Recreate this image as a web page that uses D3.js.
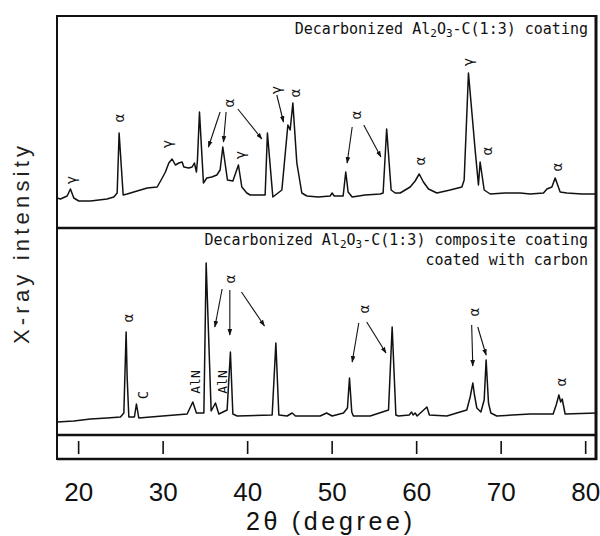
<!DOCTYPE html>
<html>
<head>
<meta charset="utf-8">
<script src="https://cdn.jsdelivr.net/npm/d3@7/dist/d3.min.js"></script>
<style>
  html, body { margin: 0; padding: 0; background: #fff; }
  svg { display: block; }
</style>
</head>
<body>
<div id="chart"></div>
<script>
// ---------------- DATA ----------------
// 2-theta tick labels
const tickValues = [20, 30, 40, 50, 60, 70, 80];

// Upper pattern: Decarbonized Al2O3-C(1:3) coating  (2θ in degree, intensity in a.u.)
const topTheta = [17.51, 17.91, 18.70, 19.09, 19.49, 20.08, 21.46, 23.43, 24.22, 24.62, 24.85, 25.33, 25.80, 26.98,
  28.17, 29.35, 29.82, 30.33, 30.73, 31.12, 31.51, 31.92, 32.31, 32.51, 33.10, 33.49, 33.76, 34.00, 34.12, 34.36,
  34.83, 35.23, 35.82, 36.41, 36.80, 37.12, 37.67, 38.31, 38.97, 39.37, 39.96, 40.36, 42.13, 42.40, 43.04, 44.11,
  44.82, 45.09, 45.41, 45.88, 46.47, 47.07, 48.40, 49.82, 50.06, 50.30, 51.36, 51.67, 51.95, 52.43, 53.96, 55.74,
  56.09, 56.51, 57.04, 57.51, 58.11, 59.29, 59.88, 60.36, 60.86, 61.46, 62.45, 64.02, 65.41, 65.68, 66.19, 66.98,
  67.37, 67.57, 68.05, 68.76, 70.50, 72.31, 73.50, 75.07, 75.47, 76.06, 76.45, 77.04, 77.83, 79.60, 81.38];
const topIntensity = [4, 3, 6, 13, 4, 1, 1, 3, 5, 9, 69, 7, 8, 11,
  14, 15, 22, 30, 39, 43, 37, 39, 40, 35, 34, 35, 39, 30, 42, 90,
  19, 24, 25, 27, 32, 55, 22, 21, 37, 15, 9, 7, 7, 69, 5, 12,
  77, 72, 99, 39, 9, 6, 5, 6, 9, 6, 6, 30, 10, 5, 7, 8,
  9, 73, 12, 9, 9, 15, 21, 28, 20, 13, 9, 12, 15, 22, 129, 52,
  17, 40, 12, 8, 9, 9, 8, 9, 13, 15, 24, 10, 9, 8, 8];

// Lower pattern: Decarbonized Al2O3-C(1:3) composite coating coated with carbon
const bottomTheta = [17.51, 19.49, 21.46, 23.43, 25.01, 25.41, 25.68, 25.80, 26.00, 26.66, 26.90, 27.18, 28.56,
  32.90, 33.57, 34.00, 34.88, 35.15, 35.74, 36.25, 36.65, 37.63, 38.02, 38.31, 38.82, 42.96, 43.40, 43.75, 44.73,
  45.33, 45.72, 48.64, 49.40, 50.06, 51.40, 51.87, 52.11, 52.38, 52.57, 54.56, 56.73, 57.16, 57.60, 57.91, 59.17,
  59.46, 59.64, 59.88, 60.12, 61.27, 61.57, 63.63, 65.99, 66.39, 66.71, 66.90, 67.18, 67.66, 68.05, 68.28, 68.56,
  68.84, 69.54, 73.49, 76.21, 76.57, 76.89, 77.10, 77.28, 77.63, 81.42];
const bottomIntensity = [3, 4, 6, 7, 8, 12, 93, 48, 8, 8, 21, 7, 8,
  11, 23, 12, 12, 162, 14, 22, 11, 15, 73, 11, 9, 10, 82, 10, 9,
  12, 9, 9, 12, 9, 12, 17, 47, 13, 9, 9, 15, 98, 10, 9, 10,
  13, 10, 12, 9, 18, 10, 9, 15, 28, 42, 30, 17, 13, 25, 65, 22,
  12, 9, 11, 11, 20, 30, 23, 26, 11, 12];

// Phase labels: text, 2θ, intensity position
const topLabelText  = ["γ", "α", "γ", "α", "γ", "γ", "α", "α", "α", "γ", "α", "α"];
const topLabelTheta = [19.15, 24.80, 30.53, 37.81, 39.17, 43.37, 45.64, 52.90, 60.45, 66.15, 68.38, 76.66];
const topLabelInt   = [22, 84, 58, 99, 47, 112, 109, 87, 41, 140, 51, 35];

const bottomLabelText  = ["α", "C", "AlN", "AlN", "α", "α", "α", "α"];
const bottomLabelTheta = [25.88, 27.69, 33.88, 37.04, 37.95, 53.80, 66.79, 77.12];
const bottomLabelInt   = [107, 30, 43, 43, 146, 116, 113, 43];

// Arrows: from (θ, I) to (θ, I)
const topArrowFromTheta = [36.80, 37.51, 38.90, 43.51, 52.43, 53.80];
const topArrowFromInt   = [90, 90, 93, 107, 75, 77];
const topArrowToTheta   = [35.42, 37.20, 41.74, 44.30, 51.83, 55.83];
const topArrowToInt     = [55, 60, 63, 80, 39, 45];

const bottomArrowFromTheta = [37.04, 37.95, 39.33, 53.21, 54.15, 66.57, 67.29];
const bottomArrowFromInt   = [136, 135, 133, 102, 103, 100, 98];
const bottomArrowToTheta   = [36.18, 37.95, 42.05, 52.43, 56.43, 66.70, 68.28];
const bottomArrowToInt     = [98, 90, 99, 63, 72, 59, 70];

// ---------------- LAYOUT ----------------
const W = 600, H = 536;
const frameL = 57, frameR = 597, frameT = 16, divY = 228, lowB = 435, stripB = 459;
const ink = "#111";

const svg = d3.select("#chart").append("svg").attr("width", W).attr("height", H);

const x = d3.scaleLinear().domain([17.5, 81.4]).range([frameL, frameR]);
const yTop = d3.scaleLinear().domain([0, 140]).range([202, 62]);
const yBot = d3.scaleLinear().domain([0, 165]).range([425, 260]);

svg.append("defs").append("marker")
  .attr("id", "arr").attr("viewBox", "0 0 10 10").attr("refX", 9).attr("refY", 5)
  .attr("markerWidth", 6).attr("markerHeight", 6).attr("orient", "auto")
  .append("path").attr("d", "M0,1.5 L10,5 L0,8.5 Z").attr("fill", ink);

// traces
const topData = topTheta.map((t, i) => [t, topIntensity[i]]);
const botData = bottomTheta.map((t, i) => [t, bottomIntensity[i]]);
svg.append("path").datum(topData)
  .attr("d", d3.line().x(d => x(d[0])).y(d => yTop(d[1])))
  .attr("fill", "none").attr("stroke", ink).attr("stroke-width", 1.5).attr("stroke-linejoin", "round");
svg.append("path").datum(botData)
  .attr("d", d3.line().x(d => x(d[0])).y(d => yBot(d[1])))
  .attr("fill", "none").attr("stroke", ink).attr("stroke-width", 1.5).attr("stroke-linejoin", "round");

// frame
const frame = svg.append("g").attr("stroke", ink).attr("fill", "none");
frame.append("line").attr("x1", frameL).attr("x2", frameR).attr("y1", frameT).attr("y2", frameT).attr("stroke-width", 2);
frame.append("line").attr("x1", frameL).attr("x2", frameR).attr("y1", divY).attr("y2", divY).attr("stroke-width", 2.5);
frame.append("line").attr("x1", frameL).attr("x2", frameR).attr("y1", lowB).attr("y2", lowB).attr("stroke-width", 2.5);
frame.append("line").attr("x1", frameL).attr("x2", frameR).attr("y1", stripB).attr("y2", stripB).attr("stroke-width", 2.5);
frame.append("line").attr("x1", frameL).attr("x2", frameL).attr("y1", frameT - 1).attr("y2", stripB + 1).attr("stroke-width", 2);
frame.append("line").attr("x1", frameR - 1).attr("x2", frameR - 1).attr("y1", frameT - 1).attr("y2", stripB + 1).attr("stroke-width", 3);

// axis ticks in the strip
const axis = d3.axisBottom(x).tickValues(tickValues).tickSize(13).tickPadding(29).tickFormat(d3.format("d"));
const ax = svg.append("g").attr("transform", `translate(0,441)`).call(axis);
ax.select(".domain").remove();
ax.selectAll(".tick line").attr("stroke", ink).attr("stroke-width", 1.6);
ax.selectAll(".tick text").attr("fill", ink).attr("font-family", "Liberation Sans, Arial, sans-serif")
  .attr("font-size", 26);

// axis titles
svg.append("text").attr("x", 329).attr("y", 530).attr("text-anchor", "middle")
  .attr("font-family", "Liberation Sans, Arial, sans-serif").attr("font-size", 25).attr("fill", ink)
  .attr("textLength", 166).attr("lengthAdjust", "spacing")
  .text("2θ (degree)");
svg.append("text").attr("transform", "translate(29,245) rotate(-90)").attr("text-anchor", "middle")
  .attr("font-family", "Liberation Sans, Arial, sans-serif").attr("font-size", 22).attr("fill", "#222")
  .attr("textLength", 198).attr("lengthAdjust", "spacing")
  .text("X-ray intensity");

// panel captions
const mono = "DejaVu Sans Mono, Liberation Mono, monospace";
function caption(xr, y, parts) {
  const t = svg.append("text").attr("x", xr).attr("y", y).attr("text-anchor", "end")
    .attr("font-family", mono).attr("font-size", 15).attr("fill", ink);
  parts.forEach(p => {
    const s = t.append("tspan").text(p.t);
    if (p.sub) s.attr("font-size", 11).attr("dy", 3);
    if (p.back) s.attr("dy", -3);
  });
}
caption(588, 34, [{t: "Decarbonized Al"}, {t: "2", sub: true}, {t: "O", back: true}, {t: "3", sub: true}, {t: "-C(1:3) coating", back: true}]);
caption(588, 245, [{t: "Decarbonized Al"}, {t: "2", sub: true}, {t: "O", back: true}, {t: "3", sub: true}, {t: "-C(1:3) composite coating", back: true}]);
caption(588, 265, [{t: "coated with carbon"}]);

// phase labels (rotated like the original)
function labels(texts, thetas, ints, yS) {
  texts.forEach((t, i) => {
    svg.append("text")
      .attr("transform", `translate(${x(thetas[i])},${yS(ints[i])}) rotate(-90)`)
      .attr("text-anchor", "middle").attr("dominant-baseline", "central")
      .attr("font-family", mono).attr("font-size", t.length > 1 ? 13 : 14).attr("fill", ink)
      .text(t);
  });
}
labels(topLabelText, topLabelTheta, topLabelInt, yTop);
labels(bottomLabelText, bottomLabelTheta, bottomLabelInt, yBot);

function arrows(ft, fi, tt, ti, yS) {
  ft.forEach((d, i) => {
    svg.append("line")
      .attr("x1", x(ft[i])).attr("y1", yS(fi[i]))
      .attr("x2", x(tt[i])).attr("y2", yS(ti[i]))
      .attr("stroke", ink).attr("stroke-width", 1.1).attr("marker-end", "url(#arr)");
  });
}
arrows(topArrowFromTheta, topArrowFromInt, topArrowToTheta, topArrowToInt, yTop);
arrows(bottomArrowFromTheta, bottomArrowFromInt, bottomArrowToTheta, bottomArrowToInt, yBot);
</script>
</body>
</html>
